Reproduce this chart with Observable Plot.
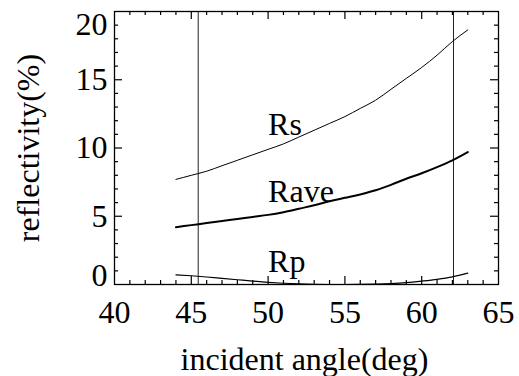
<!DOCTYPE html>
<html>
<head>
<meta charset="utf-8">
<script src="https://cdn.jsdelivr.net/npm/d3@7"></script>
<script src="https://cdn.jsdelivr.net/npm/@observablehq/plot@0.6"></script>
<style>
  html, body { margin: 0; padding: 0; background: white; }
</style>
</head>
<body>
<div id="chart"></div>
<script>
const angles = [44, 45, 46, 47, 48, 49, 50, 51, 52, 53, 54, 55, 56, 57, 58, 59, 60, 61, 62, 63];
const rs   = [7.7, 8.0, 8.3, 8.7, 9.1, 9.5, 9.9, 10.3, 10.8, 11.3, 11.8, 12.3, 12.9, 13.5, 14.3, 15.1, 15.9, 16.8, 17.8, 18.65];
const rave = [4.2, 4.35, 4.5, 4.65, 4.8, 4.95, 5.1, 5.3, 5.55, 5.8, 6.1, 6.35, 6.6, 6.9, 7.3, 7.75, 8.15, 8.6, 9.1, 9.7];
const rp   = [0.71, 0.64, 0.55, 0.45, 0.35, 0.25, 0.16, 0.09, 0.04, 0.01, 0.0, 0.0, 0.01, 0.03, 0.07, 0.14, 0.25, 0.38, 0.56, 0.83];

const markerAngles = [45.45, 62.07];

const seriesLabels = [
  {text: "Rs",   x: 50.0, y: 10.98},
  {text: "Rave", x: 50.0, y: 6.07},
  {text: "Rp",   x: 50.0, y: 0.91}
];

const xTickValues = [40, 45, 50, 55, 60, 65];
const xTickLabels = ["40", "45", "50", "55", "60", "65"];
const yTickValues = [0.65, 5, 10, 15, 19];
const yTickLabels = ["0", "5", "10", "15", "20"];

const xMinor = d3.range(41, 65).filter(d => d % 5 !== 0);
const xMajor = [45, 50, 55, 60];
const yMinor = d3.range(1, 20).filter(d => d % 5 !== 0);
const yMajor = [5, 10, 15];

const xLabelMap = new Map(xTickValues.map((v, i) => [v, xTickLabels[i]]));
const yLabelMap = new Map(yTickValues.map((v, i) => [v, yTickLabels[i]]));

const toRows = (vals) => angles.map((a, i) => ({a, v: vals[i]}));

const font = "Liberation Serif, Times New Roman, serif";

const W = 519, H = 376, ML = 114, MR = 21, MT = 11, MB = 92;
const PW = W - ML - MR, PH = H - MT - MB;
const minorLen = 4, majorLen = 8;

const chart = Plot.plot({
  width: W,
  height: H,
  marginLeft: ML,
  marginRight: MR,
  marginTop: MT,
  marginBottom: MB,
  style: {fontFamily: font, fontSize: "32px", background: "white", color: "black"},
  x: {domain: [40, 65]},
  y: {domain: [0, 20]},
  marks: [
    // inward ticks: bottom, top, left, right
    Plot.ruleX(xMinor, {stroke: "black", strokeWidth: 1.2, insetTop: PH - minorLen}),
    Plot.ruleX(xMajor, {stroke: "black", strokeWidth: 1.2, insetTop: PH - majorLen}),
    Plot.ruleX(xMinor, {stroke: "black", strokeWidth: 1.2, insetBottom: PH - minorLen}),
    Plot.ruleX(xMajor, {stroke: "black", strokeWidth: 1.2, insetBottom: PH - majorLen}),
    Plot.ruleY(yMinor, {stroke: "black", strokeWidth: 1.2, insetRight: PW - minorLen}),
    Plot.ruleY(yMajor, {stroke: "black", strokeWidth: 1.2, insetRight: PW - majorLen}),
    Plot.ruleY(yMinor, {stroke: "black", strokeWidth: 1.2, insetLeft: PW - minorLen}),
    Plot.ruleY(yMajor, {stroke: "black", strokeWidth: 1.2, insetLeft: PW - majorLen}),
    // tick labels
    Plot.axisX(xTickValues, {anchor: "bottom", tickSize: 0, tickPadding: 16, fontSize: 32, tickFormat: d => xLabelMap.get(d), label: null}),
    Plot.axisY(yTickValues, {anchor: "left", tickSize: 0, tickPadding: 7, fontSize: 32, tickFormat: d => yLabelMap.get(d), label: null}),
    // vertical marker lines
    Plot.ruleX(markerAngles, {stroke: "#222", strokeWidth: 1}),
    // curves
    Plot.line(toRows(rs),   {x: "a", y: "v", stroke: "black", strokeWidth: 1, curve: "monotone-x"}),
    Plot.line(toRows(rave), {x: "a", y: "v", stroke: "black", strokeWidth: 2, curve: "monotone-x"}),
    Plot.line(toRows(rp),   {x: "a", y: "v", stroke: "black", strokeWidth: 1.2, curve: "monotone-x"}),
    // series labels
    Plot.text(seriesLabels, {x: "x", y: "y", text: "text", textAnchor: "start", lineAnchor: "bottom", fontSize: 32, fill: "black"}),
    // axis titles
    Plot.text(["incident angle(deg)"], {text: d => d, frameAnchor: "bottom", textAnchor: "middle", dy: 85, dx: -2, lineAnchor: "bottom", fontSize: 32, fill: "black"}),
    Plot.text(["reflectivity(%)"], {text: d => d, frameAnchor: "left", textAnchor: "middle", dx: -76, rotate: -90, lineAnchor: "bottom", fontSize: 32, fill: "black"}),
    Plot.frame({stroke: "black", strokeWidth: 1.3})
  ]
});

document.getElementById("chart").appendChild(chart);
</script>
</body>
</html>
